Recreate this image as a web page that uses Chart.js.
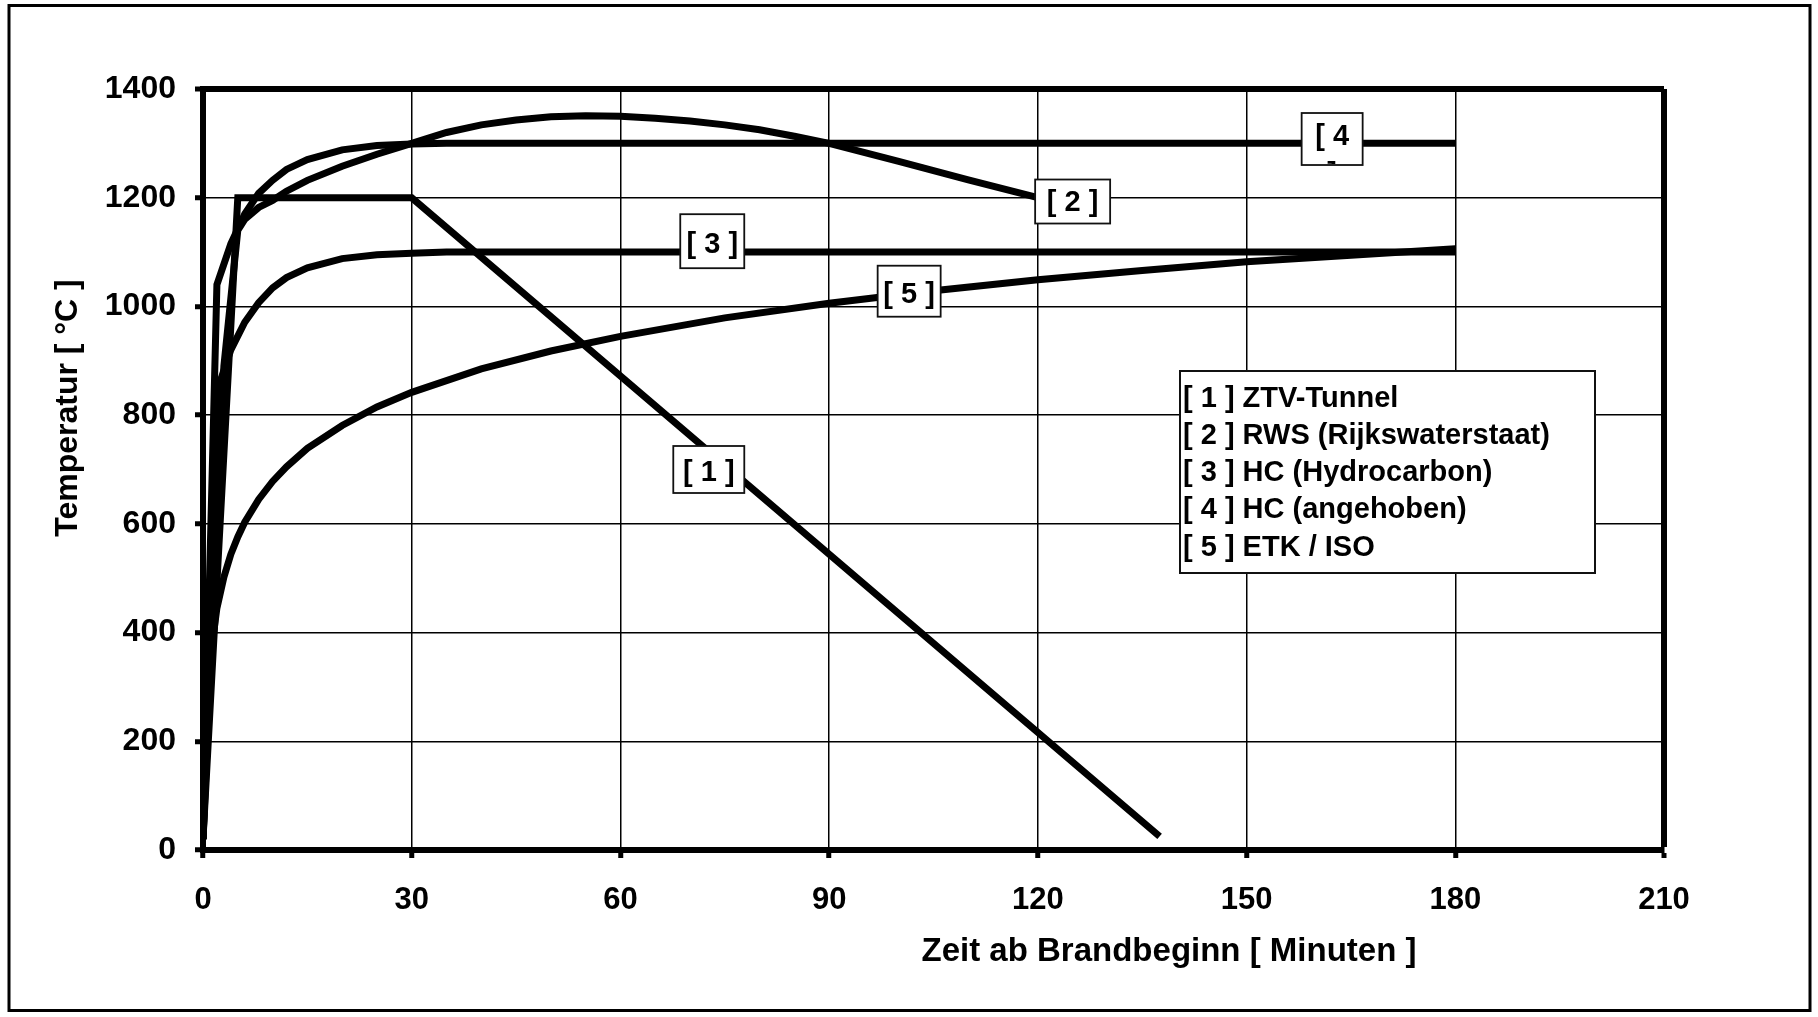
<!DOCTYPE html>
<html><head><meta charset="utf-8">
<script src="https://cdn.jsdelivr.net/npm/chart.js@4.4.1/dist/chart.umd.min.js"></script>
<style>html,body{margin:0;padding:0;background:#fff;}canvas{display:block;}</style>
</head><body>
<canvas id="c" width="1818" height="1017"></canvas>
<script>
// ---------- data ----------
const xTicks = [0, 30, 60, 90, 120, 150, 180, 210];
const yTicks = [0, 200, 400, 600, 800, 1000, 1200, 1400];
const seriesLabels = ['[ 1 ] ZTV-Tunnel', '[ 2 ] RWS (Rijkswaterstaat)', '[ 3 ] HC (Hydrocarbon)', '[ 4 ] HC (angehoben)', '[ 5 ] ETK / ISO'];
const tagTexts = ['[ 1 ]', '[ 2 ]', '[ 3 ]', '[ 4 ]', '[ 5 ]'];
const xTitle = 'Zeit ab Brandbeginn [ Minuten ]';
const yTitle = 'Temperatur [ °C ]';

const ztvTime = [0, 5, 30, 137.5];
const ztvTemp = [20, 1200, 1200, 25];

const rwsTime = [0, 3, 5, 6, 8, 10, 12, 15, 20, 25, 30, 35, 40, 45, 50, 55, 60, 65, 70, 75, 80, 85, 90, 100, 110, 120];
const rwsTemp = [20, 890, 1140, 1160, 1182, 1195, 1212, 1232, 1258, 1280, 1300, 1320, 1334, 1343, 1349, 1351, 1350, 1346, 1341, 1334, 1325, 1313, 1300, 1267, 1233, 1200];

const hcTime = [0, 2, 4, 6, 8, 10, 12, 15, 20, 25, 30, 35, 180];
const hcTemp = [20, 844, 920, 971, 1007, 1034, 1053, 1071, 1088, 1095, 1098, 1100, 1100];

const hcmTime = [0, 2, 4, 6, 8, 10, 12, 15, 20, 25, 30, 35, 180];
const hcmTemp = [20, 1040, 1115, 1170, 1208, 1232, 1252, 1270, 1288, 1296, 1299, 1300, 1300];

const etkTime = [0, 1, 2, 3, 4, 5, 6, 8, 10, 12, 15, 20, 25, 30, 40, 50, 60, 75, 90, 105, 120, 135, 150, 165, 180];
const etkTemp = [20, 349, 445, 502, 544, 576, 603, 645, 678, 705, 739, 781, 815, 842, 885, 918, 945, 979, 1006, 1029, 1049, 1066, 1082, 1094, 1106];

// ---------- styling / placement ----------
const FONT = "'Liberation Sans', Arial, Helvetica, sans-serif";
const pts = (t, v) => t.map((x, i) => ({ x: x, y: v[i] }));
const series = [
  pts(ztvTime, ztvTemp), pts(rwsTime, rwsTemp), pts(hcTime, hcTemp), pts(hcmTime, hcmTemp), pts(etkTime, etkTemp)
];

// tag boxes: anchor (box centre) in data units
const tagCfg = [
  { i: 0, x: 72.7, y: 700, w: 71, h: 47, dy: 11 },
  { i: 1, x: 125.0, y: 1193, w: 75, h: 44, dy: 9 },
  { i: 2, x: 73.2, y: 1120, w: 64, h: 54, dy: 11.5 },
  { i: 3, x: 162.3, y: 1308, w: 61, h: 52, dy: 6, wrap: true },
  { i: 4, x: 101.5, y: 1028, w: 63, h: 51, dy: 11.5 }
];

const annot = {
  id: 'annot',
  beforeDraw(chart) {
    const c = chart.ctx; c.save(); c.fillStyle = '#fff'; c.fillRect(0, 0, chart.width, chart.height); c.restore();
  },
  afterDatasetsDraw(chart) {
    const c = chart.ctx, xs = chart.scales.x, ys = chart.scales.y;
    c.save();
    c.font = 'bold 29px ' + FONT;
    c.textAlign = 'center';
    c.textBaseline = 'alphabetic';
    tagCfg.forEach(t => {
      const cx = xs.getPixelForValue(t.x), cy = ys.getPixelForValue(t.y);
      const l = cx - t.w / 2, tp = cy - t.h / 2;
      c.fillStyle = '#fff';
      c.fillRect(l, tp, t.w, t.h);
      c.strokeStyle = '#111'; c.lineWidth = 1.8;
      c.strokeRect(l, tp, t.w, t.h);
      c.save();
      c.beginPath(); c.rect(l + 1, tp + 1, t.w - 2, t.h - 2); c.clip();
      c.fillStyle = '#000';
      const txt = tagTexts[t.i];
      let lines = [txt];
      if (t.wrap) { const k = txt.lastIndexOf(' '); lines = [txt.slice(0, k), txt.slice(k + 1)]; }
      lines.forEach((ln, j) => c.fillText(ln, cx, cy + t.dy + j * 37.5));
      c.restore();
    });
    // legend
    const lx = 1180, ly = 371, lw = 415, lh = 202;
    c.fillStyle = '#fff'; c.fillRect(lx, ly, lw, lh);
    c.strokeStyle = '#111'; c.lineWidth = 2; c.strokeRect(lx, ly, lw, lh);
    c.fillStyle = '#000'; c.textAlign = 'left';
    c.font = 'bold 29px ' + FONT;
    chart.data.datasets.forEach((d, j) => c.fillText(d.label, lx + 3, 406.5 + j * 37.3));
    c.restore();
  },
  afterDraw(chart) {
    const c = chart.ctx;
    c.save();
    c.strokeStyle = '#000'; c.lineWidth = 3;
    c.strokeRect(9, 5.5, 1801, 1005);
    c.fillStyle = '#000';
    c.textAlign = 'center'; c.textBaseline = 'alphabetic';
    c.font = 'bold 33px ' + FONT;
    c.fillText(xTitle, 1169, 961);
    c.font = 'bold 32px ' + FONT;
    c.translate(77, 408); c.rotate(-Math.PI / 2);
    c.fillText(yTitle, 0, 0);
    c.restore();
  }
};

Chart.defaults.font.family = FONT;
Chart.defaults.color = '#000';

new Chart(document.getElementById('c'), {
  type: 'line',
  data: {
    datasets: series.map((s, i) => ({
      label: seriesLabels[i], data: s,
      borderColor: '#000', backgroundColor: '#000', borderWidth: 7,
      pointRadius: 0, tension: 0, fill: false
    }))
  },
  options: {
    responsive: false, animation: false, devicePixelRatio: 1,
    layout: { padding: { top: 89, right: 154, left: 0, bottom: 0 } },
    plugins: { legend: { display: false }, tooltip: { enabled: false } },
    scales: {
      x: {
        type: 'linear', min: 0, max: 210,
        afterBuildTicks: s => { s.ticks = xTicks.map(v => ({ value: v })); },
        afterFit: s => { s.height = 167; },
        grid: { color: '#000', lineWidth: ctx => (ctx.tick && ctx.tick.value === 210) ? 6 : 1.5, tickLength: 8, tickWidth: 5, tickColor: '#000' },
        border: { display: true, width: 6, color: '#000' },
        ticks: { font: { size: 31, weight: 'bold' }, color: '#000', padding: 24, maxRotation: 0, autoSkip: false, callback: v => String(v) }
      },
      y: {
        type: 'linear', min: 0, max: 1400,
        afterBuildTicks: s => { s.ticks = yTicks.map(v => ({ value: v })); },
        afterFit: s => { s.width = 203; },
        grid: { color: '#000', lineWidth: ctx => (ctx.tick && ctx.tick.value === 1400) ? 6 : 1.5, tickLength: 8, tickWidth: 5, tickColor: '#000' },
        border: { display: true, width: 6, color: '#000' },
        ticks: { font: { size: 32, weight: 'bold' }, color: '#000', padding: 19, autoSkip: false, callback: v => String(v) }
      }
    }
  },
  plugins: [annot]
});
</script>
</body></html>
